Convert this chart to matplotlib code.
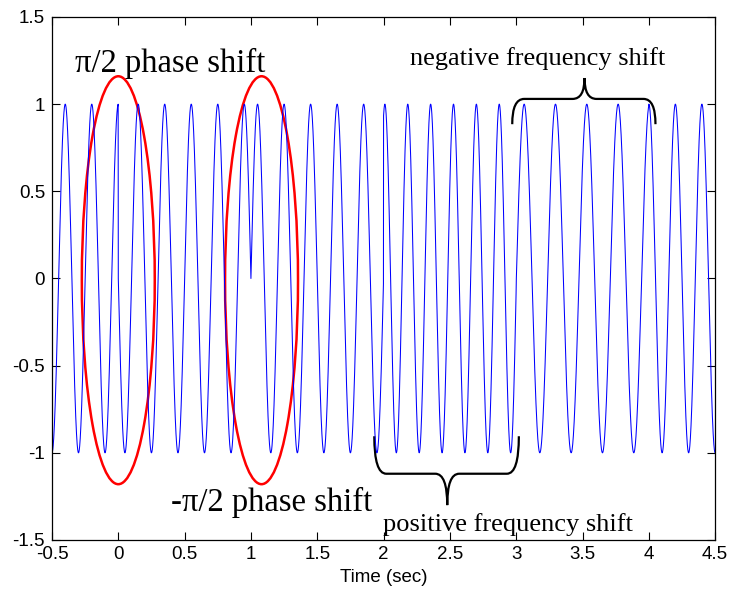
import numpy as np
import matplotlib
matplotlib.use('Agg')
import matplotlib.pyplot as plt
from matplotlib.patches import Ellipse, PathPatch
from matplotlib.path import Path

# carrier segments: start, end, frequency (Hz), time of one peak
seg_start = [-0.5, 0.0, 1.0, 2.0, 3.0, 4.0]
seg_end = [0.0, 1.0, 2.0, 3.0, 4.0, 4.5]
seg_freq = [5.0, 5.0, 5.0, 5.8, 4.235, 5.0]
seg_peak = [0.0, 0.15, 1.05, 2.01, 3.06, 4.0]

# red ellipses around the phase jumps
ell_x = [0.0, 1.08]
ell_y = [-0.01, -0.01]
ell_w = [0.55, 0.55]
ell_h = [2.34, 2.34]

# braces: left end, right end, tip x, arm y, line y, tip y
brace_x0 = [1.93, 2.97]
brace_x1 = [3.02, 4.05]
brace_xc = [2.48, 3.515]
brace_yarm = [-0.905, 0.885]
brace_yline = [-1.12, 1.03]
brace_ytip = [-1.30, 1.15]

labels = ['\u03c0/2 phase shift', '-\u03c0/2 phase shift',
          'negative frequency shift', 'positive frequency shift']
label_x = [-0.33, 0.40, 2.20, 1.995]
label_y = [1.235, -1.285, 1.26, -1.41]
label_size = [23.5, 23.5, 19, 19]

xticks = [-0.5, 0, 0.5, 1, 1.5, 2, 2.5, 3, 3.5, 4, 4.5]
xtick_labels = ['-0.5', '0', '0.5', '1', '1.5', '2', '2.5', '3', '3.5', '4', '4.5']
yticks = [-1.5, -1, -0.5, 0, 0.5, 1, 1.5]
ytick_labels = ['-1.5', '-1', '-0.5', '0', '0.5', '1', '1.5']

# -------------------
# build the signal
# -------------------
t = np.linspace(-0.5, 4.5, 5001)
y = np.zeros_like(t)
for i in range(len(seg_start)):
    if i == len(seg_start) - 1:
        m = (t >= seg_start[i]) & (t <= seg_end[i])
    else:
        m = (t >= seg_start[i]) & (t < seg_end[i])
    y[m] = np.cos(2 * np.pi * seg_freq[i] * (t[m] - seg_peak[i]))

# -------------------
# plot
# -------------------
fig = plt.figure(figsize=(7.32, 5.96), dpi=100)
ax = fig.add_axes([0.071, 0.094, 0.906, 0.8775])

ax.plot(t, y, color='#0000ff', linewidth=0.75)

for i in range(len(ell_x)):
    ax.add_patch(Ellipse((ell_x[i], ell_y[i]), ell_w[i], ell_h[i],
                         fill=False, edgecolor='#ff0000', linewidth=1.8))


def brace_path(x0, x1, xc, yarm, yline, ytip):
    r = 0.09
    verts = [(x0, yarm), (x0, yline), (x0 + r, yline),
             (xc - r, yline), (xc, yline), (xc, ytip),
             (xc, ytip), (xc, yline), (xc + r, yline),
             (x1 - r, yline), (x1, yline), (x1, yarm)]
    codes = [Path.MOVETO, Path.CURVE3, Path.CURVE3,
             Path.LINETO, Path.CURVE3, Path.CURVE3,
             Path.MOVETO, Path.CURVE3, Path.CURVE3,
             Path.LINETO, Path.CURVE3, Path.CURVE3]
    return Path(verts, codes)


for i in range(len(brace_x0)):
    p = brace_path(brace_x0[i], brace_x1[i], brace_xc[i],
                   brace_yarm[i], brace_yline[i], brace_ytip[i])
    ax.add_patch(PathPatch(p, fill=False, edgecolor='black', linewidth=1.6))

for i in range(len(labels)):
    ax.text(label_x[i], label_y[i], labels[i], fontsize=label_size[i],
            family='Liberation Serif', ha='left', va='center')

ax.set_xlim(-0.5, 4.5)
ax.set_ylim(-1.5, 1.5)
ax.set_xticks(xticks)
ax.set_xticklabels(xtick_labels)
ax.set_yticks(yticks)
ax.set_yticklabels(ytick_labels)
ax.tick_params(direction='in', length=5.5, width=0.8, top=True, right=True,
               labelsize=13.5)
ax.tick_params(axis='y', pad=5)
ax.tick_params(axis='x', pad=4)
for lab in ax.get_xticklabels() + ax.get_yticklabels():
    lab.set_family('Liberation Sans')
for s in ax.spines.values():
    s.set_linewidth(0.9)
ax.set_xlabel('Time (sec)', fontsize=13.5, family='Liberation Sans', labelpad=5)

fig.savefig('out.png', dpi=100)
